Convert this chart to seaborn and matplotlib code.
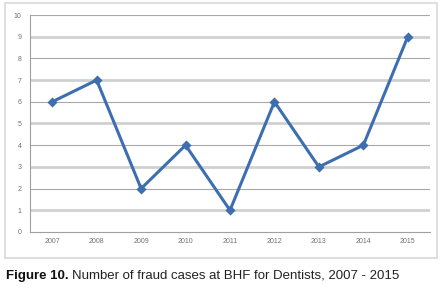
import matplotlib
matplotlib.use("Agg")
import matplotlib.pyplot as plt
from matplotlib.patches import Rectangle
import numpy as np
import seaborn as sns

years = ["2007", "2008", "2009", "2010", "2011", "2012", "2013", "2014", "2015"]
cases = [6, 7, 2, 4, 1, 6, 3, 4, 9]
y_ticks = list(range(0, 11))

sns.set_style("white")
plt.rcParams["font.family"] = ["Liberation Sans", "DejaVu Sans"]

fig = plt.figure(figsize=(4.47, 2.91), dpi=100)
ax = fig.add_axes([30 / 447, 1 - 232 / 291, 400 / 447, 217 / 291])

# light outer frame like the pasted excel chart
fig.patches.append(Rectangle((5 / 447, 1 - 258 / 291), 432 / 447, 255 / 291,
                             transform=fig.transFigure, fill=False,
                             edgecolor="#d9d9d9", linewidth=1.2))

# gridlines, odd ones look thicker/lighter in the original
for v in y_ticks[1:]:
    lw = 2.0 if v % 2 == 1 else 0.8
    col = "#d0d0d0" if v % 2 == 1 else "#a8a8a8"
    ax.axhline(v, color=col, linewidth=lw, zorder=0)

sns.pointplot(x=years, y=cases, color="#3d6fb0", markers="D",
              linewidth=2.2, markersize=3.5, ax=ax)

ax.set_xlim(-0.5, len(years) - 0.5)
ax.set_ylim(0, 10)
ax.set_yticks(y_ticks)
ax.set_xlabel("")
ax.set_ylabel("")
ax.tick_params(axis="both", labelsize=5, colors="#707070", length=0, pad=4)
ax.set_xticks(np.arange(len(years)))
ax.set_xticklabels(years)
ax.set_xticks(np.arange(len(years) + 1) - 0.5, minor=True)
ax.tick_params(axis="x", which="minor", length=2, color="#a0a0a0", direction="out")
ax.tick_params(axis="y", length=2, color="#a0a0a0", direction="out")
for s in ["top", "right"]:
    ax.spines[s].set_visible(False)
for s in ["left", "bottom"]:
    ax.spines[s].set_color("#a0a0a0")
    ax.spines[s].set_linewidth(0.8)

# caption: bold prefix then normal text, same baseline
cap_y = 1 - 279 / 291
t1 = fig.text(6 / 447, cap_y, "Figure 10.", fontsize=9.5, fontweight="bold",
              va="baseline", ha="left", color="#111111")
fig.canvas.draw()
bb = t1.get_window_extent()
fig.text(bb.x1 / fig.bbox.width + 3 / 447, cap_y,
         "Number of fraud cases at BHF for Dentists, 2007 - 2015",
         fontsize=9.5, va="baseline", ha="left", color="#222222")

fig.savefig("out.png", dpi=100)
